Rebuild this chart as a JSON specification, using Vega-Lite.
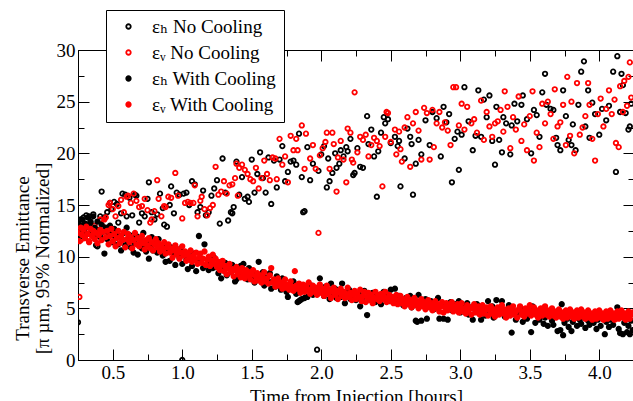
{
"$schema":"https://vega.github.io/schema/vega-lite/v6.json",
"width":556,"height":310,
"autosize":"none",
"padding":{"left":78,"top":50,"right":0,"bottom":41},
"background":"white",
"config":{
"view":{"stroke":"black","strokeWidth":1},
"font":"Liberation Serif, Times New Roman, DejaVu Serif, serif",
"axis":{"labelFont":"Liberation Serif, Times New Roman, DejaVu Serif, serif","titleFont":"Liberation Serif, Times New Roman, DejaVu Serif, serif","labelFontSize":19,"titleFontSize":19,"labelColor":"black","titleColor":"black","domainColor":"black","tickColor":"black","titleFontWeight":"normal","grid":false,"tickWidth":1,"domainWidth":1}
},
"datasets":{
"pts":[
{"s":"a","x":0.25,"y":3.65},{"s":"a","x":0.26,"y":12.9},{"s":"a","x":0.27,"y":13.6},{"s":"a","x":0.29,"y":13.8},{"s":"a","x":0.30,"y":13.2},{"s":"a","x":0.31,"y":14.0},{"s":"a","x":0.33,"y":13.9},{"s":"a","x":0.34,"y":13.4},{"s":"a","x":0.36,"y":14.1},{"s":"a","x":0.38,"y":11.1},{"s":"a","x":0.39,"y":11.0},{"s":"a","x":0.41,"y":13.9},{"s":"a","x":0.42,"y":16.3},{"s":"a","x":0.44,"y":13.8},{"s":"a","x":0.46,"y":14.3},{"s":"a","x":0.48,"y":15.2},{"s":"a","x":0.49,"y":14.6},{"s":"a","x":0.51,"y":15.3},{"s":"a","x":0.53,"y":15.1},{"s":"a","x":0.54,"y":13.3},{"s":"a","x":0.56,"y":14.2},{"s":"a","x":0.57,"y":16.1},{"s":"a","x":0.59,"y":16.0},{"s":"a","x":0.60,"y":13.9},{"s":"a","x":0.62,"y":15.7},{"s":"a","x":0.64,"y":14.0},{"s":"a","x":0.66,"y":16.0},{"s":"a","x":0.67,"y":15.9},{"s":"a","x":0.69,"y":13.3},{"s":"a","x":0.71,"y":14.2},{"s":"a","x":0.73,"y":13.9},{"s":"a","x":0.75,"y":15.6},{"s":"a","x":0.76,"y":17.2},{"s":"a","x":0.78,"y":14.3},{"s":"a","x":0.80,"y":13.6},{"s":"a","x":0.82,"y":14.1},{"s":"a","x":0.84,"y":16.1},{"s":"a","x":0.86,"y":14.7},{"s":"a","x":0.87,"y":13.1},{"s":"a","x":0.89,"y":12.9},{"s":"a","x":0.91,"y":15.0},{"s":"a","x":0.92,"y":16.8},{"s":"a","x":0.94,"y":14.2},{"s":"a","x":0.96,"y":16.2},{"s":"a","x":0.98,"y":16.0},{"s":"a","x":1.00,"y":0.0},{"s":"a","x":1.01,"y":16.1},{"s":"a","x":1.03,"y":16.2},{"s":"a","x":1.05,"y":15.0},{"s":"a","x":1.07,"y":17.3},{"s":"a","x":1.09,"y":17.0},{"s":"a","x":1.11,"y":14.3},{"s":"a","x":1.13,"y":14.8},{"s":"a","x":1.15,"y":16.4},{"s":"a","x":1.17,"y":14.0},{"s":"a","x":1.19,"y":14.3},{"s":"a","x":1.21,"y":15.9},{"s":"a","x":1.23,"y":16.6},{"s":"a","x":1.25,"y":17.4},{"s":"a","x":1.27,"y":13.2},{"s":"a","x":1.29,"y":19.5},{"s":"a","x":1.31,"y":16.2},{"s":"a","x":1.33,"y":13.5},{"s":"a","x":1.35,"y":14.3},{"s":"a","x":1.36,"y":14.2},{"s":"a","x":1.37,"y":14.8},{"s":"a","x":1.39,"y":19.2},{"s":"a","x":1.41,"y":16.0},{"s":"a","x":1.43,"y":17.7},{"s":"a","x":1.45,"y":15.6},{"s":"a","x":1.47,"y":15.8},{"s":"a","x":1.48,"y":15.3},{"s":"a","x":1.50,"y":19.4},{"s":"a","x":1.52,"y":16.2},{"s":"a","x":1.54,"y":18.0},{"s":"a","x":1.56,"y":20.1},{"s":"a","x":1.58,"y":17.6},{"s":"a","x":1.60,"y":16.2},{"s":"a","x":1.62,"y":19.6},{"s":"a","x":1.64,"y":15.1},{"s":"a","x":1.66,"y":19.3},{"s":"a","x":1.68,"y":16.7},{"s":"a","x":1.70,"y":19.4},{"s":"a","x":1.72,"y":20.7},{"s":"a","x":1.74,"y":17.3},{"s":"a","x":1.76,"y":18.2},{"s":"a","x":1.78,"y":19.2},{"s":"a","x":1.80,"y":19.3},{"s":"a","x":1.82,"y":18.9},{"s":"a","x":1.84,"y":21.9},{"s":"a","x":1.86,"y":17.7},{"s":"a","x":1.87,"y":14.3},{"s":"a","x":1.88,"y":14.4},{"s":"a","x":1.90,"y":20.6},{"s":"a","x":1.92,"y":17.4},{"s":"a","x":1.94,"y":19.0},{"s":"a","x":1.97,"y":1.0},{"s":"a","x":1.98,"y":18.3},{"s":"a","x":2.00,"y":19.9},{"s":"a","x":2.02,"y":20.7},{"s":"a","x":2.04,"y":16.7},{"s":"a","x":2.05,"y":19.5},{"s":"a","x":2.06,"y":17.3},{"s":"a","x":2.08,"y":18.1},{"s":"a","x":2.10,"y":20.0},{"s":"a","x":2.11,"y":18.6},{"s":"a","x":2.13,"y":19.0},{"s":"a","x":2.14,"y":20.3},{"s":"a","x":2.16,"y":19.7},{"s":"a","x":2.18,"y":20.6},{"s":"a","x":2.19,"y":20.2},{"s":"a","x":2.21,"y":21.4},{"s":"a","x":2.23,"y":17.9},{"s":"a","x":2.24,"y":18.1},{"s":"a","x":2.26,"y":20.5},{"s":"a","x":2.28,"y":18.7},{"s":"a","x":2.30,"y":18.6},{"s":"a","x":2.33,"y":23.6},{"s":"a","x":2.34,"y":20.9},{"s":"a","x":2.36,"y":22.3},{"s":"a","x":2.38,"y":19.7},{"s":"a","x":2.40,"y":15.8},{"s":"a","x":2.41,"y":20.2},{"s":"a","x":2.43,"y":22.0},{"s":"a","x":2.45,"y":23.5},{"s":"a","x":2.46,"y":22.9},{"s":"a","x":2.48,"y":23.3},{"s":"a","x":2.50,"y":21.0},{"s":"a","x":2.53,"y":21.6},{"s":"a","x":2.55,"y":20.7},{"s":"a","x":2.56,"y":21.2},{"s":"a","x":2.57,"y":16.8},{"s":"a","x":2.60,"y":19.5},{"s":"a","x":2.62,"y":22.4},{"s":"a","x":2.64,"y":21.6},{"s":"a","x":2.65,"y":20.9},{"s":"a","x":2.66,"y":16.0},{"s":"a","x":2.68,"y":19.0},{"s":"a","x":2.70,"y":21.3},{"s":"a","x":2.72,"y":19.9},{"s":"a","x":2.75,"y":23.2},{"s":"a","x":2.78,"y":20.8},{"s":"a","x":2.80,"y":24.0},{"s":"a","x":2.83,"y":23.4},{"s":"a","x":2.86,"y":19.7},{"s":"a","x":2.88,"y":24.5},{"s":"a","x":2.90,"y":23.0},{"s":"a","x":2.92,"y":23.8},{"s":"a","x":2.94,"y":17.2},{"s":"a","x":2.96,"y":21.4},{"s":"a","x":2.98,"y":22.1},{"s":"a","x":2.99,"y":18.4},{"s":"a","x":3.01,"y":21.8},{"s":"a","x":3.03,"y":26.4},{"s":"a","x":3.06,"y":23.1},{"s":"a","x":3.09,"y":20.3},{"s":"a","x":3.11,"y":21.7},{"s":"a","x":3.13,"y":26.1},{"s":"a","x":3.15,"y":21.6},{"s":"a","x":3.17,"y":25.2},{"s":"a","x":3.19,"y":23.5},{"s":"a","x":3.21,"y":25.6},{"s":"a","x":3.23,"y":21.2},{"s":"a","x":3.25,"y":18.9},{"s":"a","x":3.26,"y":24.5},{"s":"a","x":3.28,"y":21.3},{"s":"a","x":3.30,"y":20.1},{"s":"a","x":3.31,"y":23.5},{"s":"a","x":3.33,"y":22.9},{"s":"a","x":3.36,"y":19.9},{"s":"a","x":3.37,"y":22.7},{"s":"a","x":3.39,"y":24.8},{"s":"a","x":3.41,"y":23.1},{"s":"a","x":3.44,"y":24.7},{"s":"a","x":3.45,"y":25.6},{"s":"a","x":3.48,"y":23.3},{"s":"a","x":3.51,"y":20.0},{"s":"a","x":3.53,"y":24.2},{"s":"a","x":3.55,"y":23.7},{"s":"a","x":3.57,"y":21.6},{"s":"a","x":3.59,"y":25.9},{"s":"a","x":3.61,"y":27.7},{"s":"a","x":3.62,"y":24.7},{"s":"a","x":3.65,"y":24.3},{"s":"a","x":3.67,"y":24.2},{"s":"a","x":3.69,"y":21.5},{"s":"a","x":3.70,"y":20.8},{"s":"a","x":3.72,"y":20.3},{"s":"a","x":3.74,"y":26.1},{"s":"a","x":3.76,"y":23.6},{"s":"a","x":3.78,"y":21.3},{"s":"a","x":3.80,"y":20.8},{"s":"a","x":3.81,"y":22.8},{"s":"a","x":3.83,"y":20.3},{"s":"a","x":3.85,"y":24.7},{"s":"a","x":3.87,"y":27.9},{"s":"a","x":3.89,"y":28.9},{"s":"a","x":3.90,"y":22.6},{"s":"a","x":3.92,"y":26.1},{"s":"a","x":3.93,"y":21.5},{"s":"a","x":3.95,"y":24.9},{"s":"a","x":3.97,"y":23.8},{"s":"a","x":4.00,"y":21.8},{"s":"a","x":4.02,"y":24.3},{"s":"a","x":4.05,"y":23.2},{"s":"a","x":4.07,"y":24.6},{"s":"a","x":4.10,"y":27.9},{"s":"a","x":4.12,"y":18.2},{"s":"a","x":4.13,"y":29.4},{"s":"a","x":4.15,"y":24.0},{"s":"a","x":4.16,"y":27.7},{"s":"a","x":4.17,"y":26.6},{"s":"a","x":4.19,"y":23.9},{"s":"a","x":4.21,"y":22.3},{"s":"a","x":4.22,"y":22.6},{"s":"a","x":4.23,"y":24.8},
{"s":"b","x":0.26,"y":6.1},{"s":"b","x":0.27,"y":11.6},{"s":"b","x":0.28,"y":12.3},{"s":"b","x":0.30,"y":11.8},{"s":"b","x":0.31,"y":12.8},{"s":"b","x":0.33,"y":11.5},{"s":"b","x":0.35,"y":12.5},{"s":"b","x":0.37,"y":13.0},{"s":"b","x":0.39,"y":12.0},{"s":"b","x":0.41,"y":13.6},{"s":"b","x":0.43,"y":12.9},{"s":"b","x":0.45,"y":13.8},{"s":"b","x":0.47,"y":15.0},{"s":"b","x":0.48,"y":15.2},{"s":"b","x":0.50,"y":14.6},{"s":"b","x":0.52,"y":13.9},{"s":"b","x":0.54,"y":14.9},{"s":"b","x":0.56,"y":15.5},{"s":"b","x":0.58,"y":14.3},{"s":"b","x":0.60,"y":15.8},{"s":"b","x":0.61,"y":15.9},{"s":"b","x":0.63,"y":15.2},{"s":"b","x":0.65,"y":16.1},{"s":"b","x":0.67,"y":15.4},{"s":"b","x":0.69,"y":14.8},{"s":"b","x":0.71,"y":14.9},{"s":"b","x":0.73,"y":15.6},{"s":"b","x":0.75,"y":14.5},{"s":"b","x":0.77,"y":13.3},{"s":"b","x":0.78,"y":13.6},{"s":"b","x":0.80,"y":14.4},{"s":"b","x":0.82,"y":17.4},{"s":"b","x":0.83,"y":15.6},{"s":"b","x":0.85,"y":13.9},{"s":"b","x":0.87,"y":14.9},{"s":"b","x":0.88,"y":14.8},{"s":"b","x":0.90,"y":15.8},{"s":"b","x":0.92,"y":15.7},{"s":"b","x":0.95,"y":18.1},{"s":"b","x":0.97,"y":15.9},{"s":"b","x":1.00,"y":13.7},{"s":"b","x":1.02,"y":15.2},{"s":"b","x":1.04,"y":15.3},{"s":"b","x":1.06,"y":15.2},{"s":"b","x":1.08,"y":15.2},{"s":"b","x":1.09,"y":16.9},{"s":"b","x":1.11,"y":13.9},{"s":"b","x":1.13,"y":15.4},{"s":"b","x":1.14,"y":15.8},{"s":"b","x":1.16,"y":14.6},{"s":"b","x":1.18,"y":14.0},{"s":"b","x":1.20,"y":14.7},{"s":"b","x":1.22,"y":15.0},{"s":"b","x":1.24,"y":18.7},{"s":"b","x":1.26,"y":16.0},{"s":"b","x":1.28,"y":16.3},{"s":"b","x":1.30,"y":17.3},{"s":"b","x":1.32,"y":16.1},{"s":"b","x":1.34,"y":16.9},{"s":"b","x":1.36,"y":17.0},{"s":"b","x":1.38,"y":17.6},{"s":"b","x":1.39,"y":19.0},{"s":"b","x":1.40,"y":15.9},{"s":"b","x":1.41,"y":18.6},{"s":"b","x":1.43,"y":18.9},{"s":"b","x":1.45,"y":18.4},{"s":"b","x":1.47,"y":18.0},{"s":"b","x":1.49,"y":17.5},{"s":"b","x":1.51,"y":17.3},{"s":"b","x":1.53,"y":18.6},{"s":"b","x":1.55,"y":16.6},{"s":"b","x":1.57,"y":17.6},{"s":"b","x":1.59,"y":19.3},{"s":"b","x":1.61,"y":18.0},{"s":"b","x":1.63,"y":17.4},{"s":"b","x":1.65,"y":19.6},{"s":"b","x":1.67,"y":19.5},{"s":"b","x":1.68,"y":17.5},{"s":"b","x":1.70,"y":21.4},{"s":"b","x":1.72,"y":18.9},{"s":"b","x":1.74,"y":19.7},{"s":"b","x":1.76,"y":17.2},{"s":"b","x":1.78,"y":21.7},{"s":"b","x":1.80,"y":20.3},{"s":"b","x":1.82,"y":21.4},{"s":"b","x":1.83,"y":20.3},{"s":"b","x":1.86,"y":22.7},{"s":"b","x":1.88,"y":18.5},{"s":"b","x":1.89,"y":21.9},{"s":"b","x":1.92,"y":19.5},{"s":"b","x":1.94,"y":20.8},{"s":"b","x":1.96,"y":18.5},{"s":"b","x":1.98,"y":12.3},{"s":"b","x":1.99,"y":19.8},{"s":"b","x":2.01,"y":20.5},{"s":"b","x":2.03,"y":21.1},{"s":"b","x":2.04,"y":22.0},{"s":"b","x":2.06,"y":18.5},{"s":"b","x":2.08,"y":22.0},{"s":"b","x":2.09,"y":20.9},{"s":"b","x":2.11,"y":16.3},{"s":"b","x":2.12,"y":19.6},{"s":"b","x":2.14,"y":21.2},{"s":"b","x":2.16,"y":19.4},{"s":"b","x":2.18,"y":17.2},{"s":"b","x":2.19,"y":22.4},{"s":"b","x":2.21,"y":22.0},{"s":"b","x":2.22,"y":19.4},{"s":"b","x":2.23,"y":19.1},{"s":"b","x":2.24,"y":25.9},{"s":"b","x":2.26,"y":20.1},{"s":"b","x":2.28,"y":21.6},{"s":"b","x":2.30,"y":21.3},{"s":"b","x":2.32,"y":21.8},{"s":"b","x":2.34,"y":19.7},{"s":"b","x":2.36,"y":20.8},{"s":"b","x":2.38,"y":21.5},{"s":"b","x":2.40,"y":21.2},{"s":"b","x":2.42,"y":20.7},{"s":"b","x":2.44,"y":16.8},{"s":"b","x":2.46,"y":21.6},{"s":"b","x":2.47,"y":24.0},{"s":"b","x":2.48,"y":23.9},{"s":"b","x":2.50,"y":21.1},{"s":"b","x":2.53,"y":22.3},{"s":"b","x":2.54,"y":19.9},{"s":"b","x":2.56,"y":22.1},{"s":"b","x":2.57,"y":20.4},{"s":"b","x":2.58,"y":19.2},{"s":"b","x":2.60,"y":22.5},{"s":"b","x":2.62,"y":23.5},{"s":"b","x":2.64,"y":18.7},{"s":"b","x":2.66,"y":22.9},{"s":"b","x":2.68,"y":24.0},{"s":"b","x":2.70,"y":22.2},{"s":"b","x":2.72,"y":19.4},{"s":"b","x":2.74,"y":24.4},{"s":"b","x":2.76,"y":23.9},{"s":"b","x":2.78,"y":19.4},{"s":"b","x":2.80,"y":24.2},{"s":"b","x":2.81,"y":20.6},{"s":"b","x":2.83,"y":22.9},{"s":"b","x":2.85,"y":24.0},{"s":"b","x":2.87,"y":22.5},{"s":"b","x":2.89,"y":23.0},{"s":"b","x":2.91,"y":22.2},{"s":"b","x":2.93,"y":20.8},{"s":"b","x":2.95,"y":26.4},{"s":"b","x":2.97,"y":26.4},{"s":"b","x":2.99,"y":22.7},{"s":"b","x":3.01,"y":24.8},{"s":"b","x":3.03,"y":22.3},{"s":"b","x":3.05,"y":24.5},{"s":"b","x":3.08,"y":22.9},{"s":"b","x":3.10,"y":23.3},{"s":"b","x":3.12,"y":22.0},{"s":"b","x":3.15,"y":25.1},{"s":"b","x":3.17,"y":21.3},{"s":"b","x":3.19,"y":24.0},{"s":"b","x":3.21,"y":22.6},{"s":"b","x":3.23,"y":21.6},{"s":"b","x":3.25,"y":22.9},{"s":"b","x":3.27,"y":23.1},{"s":"b","x":3.29,"y":24.2},{"s":"b","x":3.31,"y":22.1},{"s":"b","x":3.32,"y":26.0},{"s":"b","x":3.34,"y":24.5},{"s":"b","x":3.36,"y":20.5},{"s":"b","x":3.38,"y":23.5},{"s":"b","x":3.40,"y":22.3},{"s":"b","x":3.42,"y":25.5},{"s":"b","x":3.44,"y":21.2},{"s":"b","x":3.46,"y":22.8},{"s":"b","x":3.48,"y":20.3},{"s":"b","x":3.50,"y":23.6},{"s":"b","x":3.52,"y":26.0},{"s":"b","x":3.53,"y":19.3},{"s":"b","x":3.55,"y":22.0},{"s":"b","x":3.57,"y":20.6},{"s":"b","x":3.59,"y":24.8},{"s":"b","x":3.61,"y":22.9},{"s":"b","x":3.63,"y":25.0},{"s":"b","x":3.65,"y":23.8},{"s":"b","x":3.67,"y":21.4},{"s":"b","x":3.68,"y":26.2},{"s":"b","x":3.70,"y":22.6},{"s":"b","x":3.72,"y":23.0},{"s":"b","x":3.74,"y":24.7},{"s":"b","x":3.76,"y":20.8},{"s":"b","x":3.77,"y":27.4},{"s":"b","x":3.79,"y":21.7},{"s":"b","x":3.80,"y":25.0},{"s":"b","x":3.82,"y":20.0},{"s":"b","x":3.84,"y":26.8},{"s":"b","x":3.86,"y":21.8},{"s":"b","x":3.88,"y":22.5},{"s":"b","x":3.90,"y":23.6},{"s":"b","x":3.92,"y":26.8},{"s":"b","x":3.93,"y":24.7},{"s":"b","x":3.95,"y":21.4},{"s":"b","x":3.97,"y":19.3},{"s":"b","x":3.99,"y":23.8},{"s":"b","x":4.01,"y":25.3},{"s":"b","x":4.03,"y":22.6},{"s":"b","x":4.05,"y":24.3},{"s":"b","x":4.07,"y":26.1},{"s":"b","x":4.09,"y":23.8},{"s":"b","x":4.11,"y":25.2},{"s":"b","x":4.12,"y":21.0},{"s":"b","x":4.14,"y":20.6},{"s":"b","x":4.15,"y":26.5},{"s":"b","x":4.17,"y":24.0},{"s":"b","x":4.18,"y":27.0},{"s":"b","x":4.20,"y":24.6},{"s":"b","x":4.21,"y":27.4},{"s":"b","x":4.22,"y":28.8},{"s":"b","x":4.23,"y":25.4},
{"s":"c","x":0.25,"y":12.4},{"s":"c","x":0.26,"y":13.1},{"s":"c","x":0.27,"y":12.0},{"s":"c","x":0.28,"y":13.6},{"s":"c","x":0.29,"y":12.6},{"s":"c","x":0.30,"y":13.2},{"s":"c","x":0.31,"y":12.2},{"s":"c","x":0.32,"y":13.8},{"s":"c","x":0.33,"y":12.9},{"s":"c","x":0.34,"y":13.3},{"s":"c","x":0.35,"y":12.5},{"s":"c","x":0.36,"y":13.9},{"s":"c","x":0.37,"y":12.8},{"s":"c","x":0.38,"y":12.1},{"s":"c","x":0.39,"y":13.4},{"s":"c","x":0.40,"y":12.6},{"s":"c","x":0.41,"y":11.9},{"s":"c","x":0.42,"y":13.1},{"s":"c","x":0.43,"y":12.4},{"s":"c","x":0.44,"y":10.3},{"s":"c","x":0.45,"y":12.8},{"s":"c","x":0.46,"y":11.7},{"s":"c","x":0.47,"y":12.3},{"s":"c","x":0.48,"y":13.0},{"s":"c","x":0.49,"y":12.1},{"s":"c","x":0.50,"y":11.4},{"s":"c","x":0.51,"y":12.7},{"s":"c","x":0.52,"y":11.9},{"s":"c","x":0.53,"y":12.4},{"s":"c","x":0.54,"y":11.2},{"s":"c","x":0.55,"y":12.0},{"s":"c","x":0.56,"y":10.6},{"s":"c","x":0.57,"y":11.6},{"s":"c","x":0.58,"y":12.3},{"s":"c","x":0.59,"y":11.1},{"s":"c","x":0.60,"y":12.8},{"s":"c","x":0.61,"y":11.5},{"s":"c","x":0.62,"y":12.1},{"s":"c","x":0.63,"y":10.9},{"s":"c","x":0.64,"y":11.8},{"s":"c","x":0.65,"y":10.4},{"s":"c","x":0.66,"y":11.3},{"s":"c","x":0.67,"y":12.0},{"s":"c","x":0.68,"y":10.2},{"s":"c","x":0.69,"y":11.1},{"s":"c","x":0.70,"y":11.7},{"s":"c","x":0.71,"y":10.8},{"s":"c","x":0.72,"y":12.3},{"s":"c","x":0.73,"y":11.2},{"s":"c","x":0.74,"y":10.5},{"s":"c","x":0.75,"y":11.6},{"s":"c","x":0.76,"y":9.8},{"s":"c","x":0.77,"y":11.0},{"s":"c","x":0.78,"y":11.9},{"s":"c","x":0.79,"y":10.6},{"s":"c","x":0.80,"y":11.3},{"s":"c","x":0.82,"y":10.4},{"s":"c","x":0.83,"y":11.7},{"s":"c","x":0.84,"y":10.9},{"s":"c","x":0.86,"y":10.1},{"s":"c","x":0.87,"y":11.2},{"s":"c","x":0.88,"y":9.5},{"s":"c","x":0.90,"y":10.7},{"s":"c","x":0.91,"y":9.6},{"s":"c","x":0.92,"y":10.9},{"s":"c","x":0.94,"y":10.2},{"s":"c","x":0.95,"y":9.2},{"s":"c","x":0.96,"y":10.6},{"s":"c","x":0.98,"y":9.9},{"s":"c","x":0.99,"y":10.8},{"s":"c","x":1.00,"y":9.3},{"s":"c","x":1.02,"y":10.4},{"s":"c","x":1.03,"y":9.7},{"s":"c","x":1.04,"y":8.8},{"s":"c","x":1.06,"y":9.9},{"s":"c","x":1.07,"y":9.1},{"s":"c","x":1.08,"y":10.3},{"s":"c","x":1.10,"y":8.6},{"s":"c","x":1.11,"y":9.5},{"s":"c","x":1.12,"y":12.0},{"s":"c","x":1.14,"y":9.8},{"s":"c","x":1.15,"y":8.9},{"s":"c","x":1.16,"y":11.2},{"s":"c","x":1.18,"y":9.3},{"s":"c","x":1.19,"y":8.7},{"s":"c","x":1.20,"y":9.6},{"s":"c","x":1.22,"y":8.9},{"s":"c","x":1.23,"y":9.9},{"s":"c","x":1.24,"y":9.0},{"s":"c","x":1.26,"y":8.4},{"s":"c","x":1.27,"y":9.3},{"s":"c","x":1.28,"y":7.9},{"s":"c","x":1.30,"y":8.8},{"s":"c","x":1.31,"y":9.4},{"s":"c","x":1.32,"y":8.2},{"s":"c","x":1.34,"y":9.0},{"s":"c","x":1.35,"y":8.5},{"s":"c","x":1.36,"y":9.2},{"s":"c","x":1.38,"y":7.6},{"s":"c","x":1.39,"y":7.8},{"s":"c","x":1.40,"y":8.7},{"s":"c","x":1.42,"y":9.1},{"s":"c","x":1.43,"y":8.1},{"s":"c","x":1.44,"y":9.3},{"s":"c","x":1.46,"y":8.4},{"s":"c","x":1.47,"y":7.8},{"s":"c","x":1.48,"y":8.9},{"s":"c","x":1.50,"y":8.0},{"s":"c","x":1.51,"y":8.6},{"s":"c","x":1.52,"y":7.5},{"s":"c","x":1.54,"y":8.3},{"s":"c","x":1.55,"y":9.5},{"s":"c","x":1.56,"y":7.9},{"s":"c","x":1.58,"y":8.5},{"s":"c","x":1.59,"y":7.2},{"s":"c","x":1.60,"y":8.0},{"s":"c","x":1.62,"y":7.6},{"s":"c","x":1.63,"y":8.4},{"s":"c","x":1.64,"y":6.9},{"s":"c","x":1.66,"y":7.7},{"s":"c","x":1.67,"y":7.1},{"s":"c","x":1.68,"y":8.1},{"s":"c","x":1.70,"y":7.4},{"s":"c","x":1.71,"y":6.8},{"s":"c","x":1.72,"y":7.9},{"s":"c","x":1.74,"y":7.2},{"s":"c","x":1.75,"y":6.6},{"s":"c","x":1.76,"y":6.1},{"s":"c","x":1.78,"y":7.3},{"s":"c","x":1.79,"y":6.9},{"s":"c","x":1.80,"y":7.6},{"s":"c","x":1.82,"y":6.4},{"s":"c","x":1.83,"y":5.6},{"s":"c","x":1.84,"y":5.7},{"s":"c","x":1.85,"y":5.8},{"s":"c","x":1.86,"y":5.9},{"s":"c","x":1.88,"y":6.0},{"s":"c","x":1.89,"y":7.0},{"s":"c","x":1.90,"y":6.1},{"s":"c","x":1.92,"y":6.7},{"s":"c","x":1.93,"y":7.2},{"s":"c","x":1.94,"y":6.3},{"s":"c","x":1.96,"y":6.9},{"s":"c","x":1.97,"y":6.5},{"s":"c","x":1.99,"y":7.9},{"s":"c","x":2.00,"y":6.8},{"s":"c","x":2.02,"y":6.2},{"s":"c","x":2.03,"y":7.1},{"s":"c","x":2.04,"y":6.6},{"s":"c","x":2.06,"y":5.9},{"s":"c","x":2.07,"y":7.4},{"s":"c","x":2.08,"y":6.4},{"s":"c","x":2.10,"y":6.9},{"s":"c","x":2.11,"y":6.0},{"s":"c","x":2.12,"y":6.7},{"s":"c","x":2.14,"y":6.1},{"s":"c","x":2.15,"y":7.4},{"s":"c","x":2.17,"y":5.5},{"s":"c","x":2.18,"y":6.5},{"s":"c","x":2.20,"y":6.8},{"s":"c","x":2.21,"y":5.9},{"s":"c","x":2.22,"y":6.3},{"s":"c","x":2.24,"y":6.6},{"s":"c","x":2.25,"y":5.8},{"s":"c","x":2.27,"y":6.4},{"s":"c","x":2.28,"y":5.2},{"s":"c","x":2.30,"y":6.1},{"s":"c","x":2.31,"y":6.7},{"s":"c","x":2.33,"y":4.35},{"s":"c","x":2.34,"y":6.2},{"s":"c","x":2.36,"y":5.9},{"s":"c","x":2.37,"y":6.5},{"s":"c","x":2.39,"y":5.6},{"s":"c","x":2.40,"y":6.3},{"s":"c","x":2.42,"y":6.0},{"s":"c","x":2.43,"y":5.4},{"s":"c","x":2.45,"y":6.6},{"s":"c","x":2.46,"y":6.1},{"s":"c","x":2.47,"y":6.3},{"s":"c","x":2.49,"y":5.7},{"s":"c","x":2.50,"y":6.8},{"s":"c","x":2.52,"y":5.9},{"s":"c","x":2.53,"y":6.9},{"s":"c","x":2.55,"y":5.5},{"s":"c","x":2.56,"y":6.2},{"s":"c","x":2.58,"y":5.8},{"s":"c","x":2.59,"y":5.3},{"s":"c","x":2.61,"y":6.0},{"s":"c","x":2.62,"y":5.6},{"s":"c","x":2.64,"y":6.2},{"s":"c","x":2.65,"y":5.1},{"s":"c","x":2.67,"y":5.7},{"s":"c","x":2.68,"y":3.8},{"s":"c","x":2.69,"y":3.7},{"s":"c","x":2.70,"y":6.3},{"s":"c","x":2.72,"y":3.8},{"s":"c","x":2.73,"y":5.4},{"s":"c","x":2.75,"y":5.9},{"s":"c","x":2.76,"y":4.0},{"s":"c","x":2.78,"y":5.2},{"s":"c","x":2.79,"y":5.7},{"s":"c","x":2.81,"y":4.9},{"s":"c","x":2.82,"y":5.5},{"s":"c","x":2.84,"y":6.0},{"s":"c","x":2.85,"y":4.0},{"s":"c","x":2.87,"y":5.3},{"s":"c","x":2.88,"y":4.0},{"s":"c","x":2.90,"y":5.1},{"s":"c","x":2.91,"y":3.9},{"s":"c","x":2.93,"y":5.6},{"s":"c","x":2.94,"y":4.8},{"s":"c","x":2.96,"y":5.4},{"s":"c","x":2.97,"y":5.0},{"s":"c","x":2.99,"y":5.7},{"s":"c","x":3.00,"y":4.6},{"s":"c","x":3.02,"y":5.3},{"s":"c","x":3.03,"y":4.9},{"s":"c","x":3.05,"y":5.5},{"s":"c","x":3.06,"y":4.4},{"s":"c","x":3.08,"y":5.1},{"s":"c","x":3.09,"y":3.9},{"s":"c","x":3.11,"y":4.8},{"s":"c","x":3.12,"y":5.4},{"s":"c","x":3.14,"y":4.5},{"s":"c","x":3.15,"y":3.9},{"s":"c","x":3.17,"y":5.0},{"s":"c","x":3.18,"y":4.3},{"s":"c","x":3.20,"y":5.7},{"s":"c","x":3.21,"y":4.7},{"s":"c","x":3.23,"y":5.2},{"s":"c","x":3.24,"y":4.1},{"s":"c","x":3.26,"y":5.8},{"s":"c","x":3.27,"y":4.6},{"s":"c","x":3.29,"y":5.0},{"s":"c","x":3.30,"y":5.7},{"s":"c","x":3.32,"y":4.2},{"s":"c","x":3.33,"y":4.8},{"s":"c","x":3.35,"y":5.3},{"s":"c","x":3.36,"y":4.4},{"s":"c","x":3.37,"y":2.65},{"s":"c","x":3.39,"y":4.7},{"s":"c","x":3.40,"y":3.9},{"s":"c","x":3.42,"y":4.5},{"s":"c","x":3.43,"y":5.0},{"s":"c","x":3.45,"y":3.7},{"s":"c","x":3.46,"y":4.3},{"s":"c","x":3.48,"y":4.0},{"s":"c","x":3.49,"y":4.6},{"s":"c","x":3.51,"y":2.7},{"s":"c","x":3.52,"y":5.2},{"s":"c","x":3.54,"y":3.6},{"s":"c","x":3.55,"y":4.4},{"s":"c","x":3.57,"y":3.9},{"s":"c","x":3.58,"y":4.7},{"s":"c","x":3.60,"y":3.5},{"s":"c","x":3.61,"y":4.1},{"s":"c","x":3.63,"y":3.3},{"s":"c","x":3.64,"y":4.5},{"s":"c","x":3.66,"y":3.8},{"s":"c","x":3.67,"y":3.4},{"s":"c","x":3.69,"y":4.2},{"s":"c","x":3.70,"y":2.8},{"s":"c","x":3.72,"y":2.9},{"s":"c","x":3.73,"y":5.4},{"s":"c","x":3.74,"y":2.4},{"s":"c","x":3.75,"y":3.6},{"s":"c","x":3.77,"y":4.0},{"s":"c","x":3.78,"y":3.2},{"s":"c","x":3.80,"y":2.8},{"s":"c","x":3.81,"y":3.7},{"s":"c","x":3.83,"y":4.1},{"s":"c","x":3.84,"y":3.3},{"s":"c","x":3.86,"y":3.9},{"s":"c","x":3.87,"y":3.5},{"s":"c","x":3.89,"y":4.3},{"s":"c","x":3.90,"y":3.1},{"s":"c","x":3.92,"y":3.8},{"s":"c","x":3.93,"y":3.4},{"s":"c","x":3.95,"y":4.0},{"s":"c","x":3.96,"y":3.6},{"s":"c","x":3.98,"y":3.0},{"s":"c","x":3.99,"y":3.9},{"s":"c","x":4.01,"y":3.3},{"s":"c","x":4.02,"y":4.2},{"s":"c","x":4.04,"y":2.5},{"s":"c","x":4.05,"y":3.7},{"s":"c","x":4.07,"y":3.2},{"s":"c","x":4.08,"y":3.9},{"s":"c","x":4.10,"y":3.4},{"s":"c","x":4.11,"y":4.1},{"s":"c","x":4.13,"y":5.1},{"s":"c","x":4.14,"y":3.0},{"s":"c","x":4.15,"y":2.6},{"s":"c","x":4.17,"y":2.5},{"s":"c","x":4.18,"y":3.6},{"s":"c","x":4.20,"y":2.7},{"s":"c","x":4.21,"y":3.3},{"s":"c","x":4.22,"y":2.5},{"s":"c","x":4.23,"y":3.8},{"s":"c","x":4.24,"y":2.9},
{"s":"d","x":0.25,"y":12.3},{"s":"d","x":0.26,"y":11.5},{"s":"d","x":0.27,"y":12.8},{"s":"d","x":0.28,"y":12.1},{"s":"d","x":0.29,"y":12.6},{"s":"d","x":0.30,"y":11.8},{"s":"d","x":0.31,"y":12.9},{"s":"d","x":0.32,"y":12.2},{"s":"d","x":0.33,"y":11.4},{"s":"d","x":0.34,"y":12.7},{"s":"d","x":0.35,"y":12.0},{"s":"d","x":0.36,"y":12.5},{"s":"d","x":0.37,"y":11.7},{"s":"d","x":0.38,"y":12.3},{"s":"d","x":0.39,"y":11.3},{"s":"d","x":0.40,"y":12.1},{"s":"d","x":0.41,"y":12.6},{"s":"d","x":0.42,"y":11.6},{"s":"d","x":0.43,"y":12.4},{"s":"d","x":0.44,"y":13.6},{"s":"d","x":0.45,"y":11.9},{"s":"d","x":0.46,"y":12.5},{"s":"d","x":0.47,"y":11.2},{"s":"d","x":0.48,"y":12.0},{"s":"d","x":0.49,"y":12.7},{"s":"d","x":0.50,"y":11.5},{"s":"d","x":0.51,"y":12.2},{"s":"d","x":0.52,"y":11.0},{"s":"d","x":0.53,"y":11.8},{"s":"d","x":0.54,"y":12.5},{"s":"d","x":0.55,"y":11.3},{"s":"d","x":0.56,"y":12.0},{"s":"d","x":0.57,"y":11.6},{"s":"d","x":0.58,"y":12.4},{"s":"d","x":0.59,"y":10.9},{"s":"d","x":0.60,"y":11.7},{"s":"d","x":0.61,"y":12.2},{"s":"d","x":0.62,"y":11.4},{"s":"d","x":0.63,"y":11.9},{"s":"d","x":0.64,"y":10.8},{"s":"d","x":0.65,"y":11.6},{"s":"d","x":0.66,"y":12.3},{"s":"d","x":0.67,"y":11.2},{"s":"d","x":0.68,"y":11.8},{"s":"d","x":0.69,"y":11.0},{"s":"d","x":0.70,"y":11.5},{"s":"d","x":0.71,"y":12.0},{"s":"d","x":0.72,"y":11.3},{"s":"d","x":0.73,"y":10.7},{"s":"d","x":0.74,"y":11.6},{"s":"d","x":0.75,"y":11.1},{"s":"d","x":0.76,"y":11.8},{"s":"d","x":0.77,"y":10.8},{"s":"d","x":0.78,"y":11.4},{"s":"d","x":0.79,"y":10.6},{"s":"d","x":0.80,"y":11.2},{"s":"d","x":0.81,"y":11.7},{"s":"d","x":0.82,"y":10.9},{"s":"d","x":0.83,"y":11.3},{"s":"d","x":0.84,"y":10.5},{"s":"d","x":0.85,"y":11.0},{"s":"d","x":0.86,"y":10.7},{"s":"d","x":0.87,"y":11.4},{"s":"d","x":0.88,"y":10.3},{"s":"d","x":0.89,"y":10.9},{"s":"d","x":0.90,"y":11.2},{"s":"d","x":0.91,"y":10.4},{"s":"d","x":0.92,"y":10.8},{"s":"d","x":0.93,"y":9.9},{"s":"d","x":0.94,"y":10.6},{"s":"d","x":0.95,"y":11.1},{"s":"d","x":0.96,"y":10.2},{"s":"d","x":0.97,"y":10.7},{"s":"d","x":0.98,"y":9.8},{"s":"d","x":0.99,"y":10.4},{"s":"d","x":1.00,"y":11.0},{"s":"d","x":1.01,"y":10.1},{"s":"d","x":1.02,"y":10.5},{"s":"d","x":1.03,"y":9.6},{"s":"d","x":1.04,"y":10.2},{"s":"d","x":1.05,"y":9.9},{"s":"d","x":1.06,"y":10.6},{"s":"d","x":1.07,"y":9.5},{"s":"d","x":1.08,"y":10.1},{"s":"d","x":1.09,"y":9.7},{"s":"d","x":1.10,"y":10.4},{"s":"d","x":1.11,"y":9.3},{"s":"d","x":1.12,"y":9.9},{"s":"d","x":1.13,"y":10.3},{"s":"d","x":1.14,"y":9.4},{"s":"d","x":1.15,"y":9.8},{"s":"d","x":1.16,"y":10.5},{"s":"d","x":1.17,"y":9.2},{"s":"d","x":1.18,"y":9.7},{"s":"d","x":1.19,"y":10.0},{"s":"d","x":1.20,"y":9.1},{"s":"d","x":1.21,"y":9.6},{"s":"d","x":1.22,"y":10.2},{"s":"d","x":1.23,"y":9.3},{"s":"d","x":1.24,"y":9.8},{"s":"d","x":1.25,"y":9.0},{"s":"d","x":1.26,"y":9.5},{"s":"d","x":1.27,"y":8.7},{"s":"d","x":1.28,"y":9.2},{"s":"d","x":1.29,"y":9.6},{"s":"d","x":1.30,"y":8.6},{"s":"d","x":1.31,"y":9.1},{"s":"d","x":1.32,"y":8.3},{"s":"d","x":1.33,"y":8.9},{"s":"d","x":1.34,"y":9.3},{"s":"d","x":1.35,"y":8.5},{"s":"d","x":1.36,"y":8.8},{"s":"d","x":1.37,"y":8.1},{"s":"d","x":1.38,"y":8.7},{"s":"d","x":1.39,"y":9.0},{"s":"d","x":1.40,"y":8.3},{"s":"d","x":1.41,"y":8.6},{"s":"d","x":1.42,"y":8.0},{"s":"d","x":1.43,"y":8.9},{"s":"d","x":1.44,"y":8.4},{"s":"d","x":1.45,"y":7.9},{"s":"d","x":1.46,"y":8.7},{"s":"d","x":1.47,"y":8.2},{"s":"d","x":1.48,"y":8.5},{"s":"d","x":1.49,"y":7.8},{"s":"d","x":1.50,"y":8.3},{"s":"d","x":1.51,"y":8.7},{"s":"d","x":1.52,"y":7.6},{"s":"d","x":1.53,"y":8.1},{"s":"d","x":1.54,"y":8.4},{"s":"d","x":1.55,"y":7.7},{"s":"d","x":1.56,"y":8.2},{"s":"d","x":1.57,"y":7.5},{"s":"d","x":1.58,"y":8.0},{"s":"d","x":1.59,"y":8.5},{"s":"d","x":1.60,"y":7.6},{"s":"d","x":1.61,"y":7.9},{"s":"d","x":1.62,"y":7.4},{"s":"d","x":1.63,"y":8.2},{"s":"d","x":1.64,"y":8.9},{"s":"d","x":1.65,"y":7.5},{"s":"d","x":1.66,"y":7.8},{"s":"d","x":1.67,"y":7.1},{"s":"d","x":1.68,"y":7.6},{"s":"d","x":1.69,"y":7.9},{"s":"d","x":1.70,"y":7.2},{"s":"d","x":1.71,"y":7.5},{"s":"d","x":1.72,"y":6.9},{"s":"d","x":1.73,"y":7.4},{"s":"d","x":1.74,"y":7.8},{"s":"d","x":1.75,"y":7.0},{"s":"d","x":1.76,"y":7.3},{"s":"d","x":1.77,"y":6.8},{"s":"d","x":1.78,"y":7.6},{"s":"d","x":1.79,"y":7.1},{"s":"d","x":1.80,"y":6.7},{"s":"d","x":1.81,"y":8.6},{"s":"d","x":1.82,"y":7.2},{"s":"d","x":1.83,"y":6.9},{"s":"d","x":1.84,"y":7.4},{"s":"d","x":1.85,"y":6.5},{"s":"d","x":1.86,"y":7.0},{"s":"d","x":1.87,"y":7.3},{"s":"d","x":1.88,"y":6.6},{"s":"d","x":1.89,"y":7.1},{"s":"d","x":1.90,"y":6.8},{"s":"d","x":1.91,"y":7.5},{"s":"d","x":1.92,"y":6.4},{"s":"d","x":1.93,"y":6.9},{"s":"d","x":1.94,"y":7.2},{"s":"d","x":1.95,"y":6.6},{"s":"d","x":1.96,"y":7.0},{"s":"d","x":1.97,"y":6.3},{"s":"d","x":1.98,"y":6.8},{"s":"d","x":1.99,"y":7.3},{"s":"d","x":2.00,"y":6.5},{"s":"d","x":2.01,"y":6.9},{"s":"d","x":2.02,"y":6.2},{"s":"d","x":2.03,"y":6.7},{"s":"d","x":2.04,"y":7.2},{"s":"d","x":2.05,"y":6.4},{"s":"d","x":2.06,"y":6.8},{"s":"d","x":2.07,"y":6.0},{"s":"d","x":2.08,"y":6.6},{"s":"d","x":2.09,"y":7.0},{"s":"d","x":2.10,"y":6.3},{"s":"d","x":2.11,"y":6.7},{"s":"d","x":2.12,"y":5.9},{"s":"d","x":2.13,"y":6.5},{"s":"d","x":2.14,"y":6.9},{"s":"d","x":2.15,"y":6.2},{"s":"d","x":2.16,"y":6.6},{"s":"d","x":2.17,"y":6.0},{"s":"d","x":2.18,"y":6.4},{"s":"d","x":2.19,"y":7.0},{"s":"d","x":2.20,"y":6.1},{"s":"d","x":2.21,"y":6.5},{"s":"d","x":2.22,"y":5.8},{"s":"d","x":2.23,"y":6.3},{"s":"d","x":2.24,"y":6.7},{"s":"d","x":2.25,"y":5.9},{"s":"d","x":2.26,"y":6.4},{"s":"d","x":2.27,"y":6.1},{"s":"d","x":2.28,"y":6.8},{"s":"d","x":2.29,"y":5.7},{"s":"d","x":2.30,"y":6.2},{"s":"d","x":2.31,"y":6.6},{"s":"d","x":2.32,"y":5.6},{"s":"d","x":2.33,"y":6.1},{"s":"d","x":2.34,"y":6.5},{"s":"d","x":2.35,"y":5.8},{"s":"d","x":2.36,"y":6.3},{"s":"d","x":2.37,"y":5.5},{"s":"d","x":2.38,"y":6.0},{"s":"d","x":2.39,"y":6.6},{"s":"d","x":2.40,"y":5.9},{"s":"d","x":2.41,"y":6.2},{"s":"d","x":2.42,"y":5.7},{"s":"d","x":2.43,"y":6.4},{"s":"d","x":2.44,"y":5.9},{"s":"d","x":2.45,"y":6.1},{"s":"d","x":2.46,"y":6.6},{"s":"d","x":2.47,"y":5.6},{"s":"d","x":2.48,"y":6.0},{"s":"d","x":2.49,"y":6.3},{"s":"d","x":2.50,"y":5.7},{"s":"d","x":2.51,"y":6.1},{"s":"d","x":2.52,"y":5.5},{"s":"d","x":2.53,"y":5.9},{"s":"d","x":2.54,"y":6.3},{"s":"d","x":2.55,"y":5.4},{"s":"d","x":2.56,"y":5.8},{"s":"d","x":2.57,"y":6.2},{"s":"d","x":2.58,"y":5.5},{"s":"d","x":2.59,"y":5.9},{"s":"d","x":2.60,"y":5.2},{"s":"d","x":2.61,"y":5.7},{"s":"d","x":2.62,"y":6.1},{"s":"d","x":2.63,"y":5.4},{"s":"d","x":2.64,"y":5.8},{"s":"d","x":2.65,"y":5.1},{"s":"d","x":2.66,"y":5.6},{"s":"d","x":2.67,"y":6.0},{"s":"d","x":2.68,"y":5.3},{"s":"d","x":2.69,"y":5.7},{"s":"d","x":2.70,"y":5.0},{"s":"d","x":2.71,"y":5.5},{"s":"d","x":2.72,"y":5.9},{"s":"d","x":2.73,"y":5.2},{"s":"d","x":2.74,"y":5.6},{"s":"d","x":2.75,"y":4.9},{"s":"d","x":2.76,"y":5.4},{"s":"d","x":2.77,"y":5.8},{"s":"d","x":2.78,"y":5.1},{"s":"d","x":2.79,"y":5.5},{"s":"d","x":2.80,"y":4.8},{"s":"d","x":2.81,"y":5.3},{"s":"d","x":2.82,"y":5.7},{"s":"d","x":2.83,"y":5.0},{"s":"d","x":2.84,"y":5.4},{"s":"d","x":2.85,"y":4.7},{"s":"d","x":2.86,"y":5.2},{"s":"d","x":2.87,"y":5.6},{"s":"d","x":2.88,"y":4.6},{"s":"d","x":2.89,"y":5.1},{"s":"d","x":2.90,"y":5.5},{"s":"d","x":2.91,"y":4.8},{"s":"d","x":2.92,"y":5.3},{"s":"d","x":2.93,"y":5.0},{"s":"d","x":2.94,"y":5.6},{"s":"d","x":2.95,"y":4.7},{"s":"d","x":2.96,"y":5.2},{"s":"d","x":2.97,"y":4.9},{"s":"d","x":2.98,"y":5.4},{"s":"d","x":2.99,"y":4.6},{"s":"d","x":3.00,"y":5.1},{"s":"d","x":3.01,"y":5.5},{"s":"d","x":3.02,"y":4.7},{"s":"d","x":3.03,"y":5.0},{"s":"d","x":3.04,"y":4.5},{"s":"d","x":3.05,"y":5.3},{"s":"d","x":3.06,"y":4.8},{"s":"d","x":3.07,"y":5.1},{"s":"d","x":3.08,"y":4.4},{"s":"d","x":3.09,"y":5.0},{"s":"d","x":3.10,"y":5.4},{"s":"d","x":3.11,"y":4.6},{"s":"d","x":3.12,"y":4.9},{"s":"d","x":3.13,"y":5.2},{"s":"d","x":3.14,"y":4.4},{"s":"d","x":3.15,"y":4.8},{"s":"d","x":3.16,"y":5.3},{"s":"d","x":3.17,"y":4.5},{"s":"d","x":3.18,"y":4.9},{"s":"d","x":3.19,"y":5.1},{"s":"d","x":3.20,"y":4.3},{"s":"d","x":3.21,"y":4.8},{"s":"d","x":3.22,"y":5.2},{"s":"d","x":3.23,"y":4.5},{"s":"d","x":3.24,"y":4.9},{"s":"d","x":3.25,"y":4.2},{"s":"d","x":3.26,"y":4.7},{"s":"d","x":3.27,"y":5.1},{"s":"d","x":3.28,"y":4.4},{"s":"d","x":3.29,"y":4.8},{"s":"d","x":3.30,"y":5.3},{"s":"d","x":3.31,"y":4.5},{"s":"d","x":3.32,"y":4.9},{"s":"d","x":3.33,"y":4.1},{"s":"d","x":3.34,"y":4.6},{"s":"d","x":3.35,"y":5.0},{"s":"d","x":3.36,"y":4.3},{"s":"d","x":3.37,"y":4.8},{"s":"d","x":3.38,"y":5.2},{"s":"d","x":3.39,"y":4.4},{"s":"d","x":3.40,"y":4.7},{"s":"d","x":3.41,"y":4.1},{"s":"d","x":3.42,"y":4.9},{"s":"d","x":3.43,"y":5.2},{"s":"d","x":3.44,"y":4.4},{"s":"d","x":3.45,"y":4.7},{"s":"d","x":3.46,"y":4.2},{"s":"d","x":3.47,"y":5.0},{"s":"d","x":3.48,"y":4.5},{"s":"d","x":3.49,"y":4.8},{"s":"d","x":3.50,"y":5.3},{"s":"d","x":3.51,"y":4.3},{"s":"d","x":3.52,"y":4.7},{"s":"d","x":3.53,"y":5.1},{"s":"d","x":3.54,"y":4.4},{"s":"d","x":3.55,"y":4.8},{"s":"d","x":3.56,"y":4.1},{"s":"d","x":3.57,"y":4.6},{"s":"d","x":3.58,"y":5.0},{"s":"d","x":3.59,"y":4.3},{"s":"d","x":3.60,"y":4.7},{"s":"d","x":3.61,"y":5.2},{"s":"d","x":3.62,"y":4.4},{"s":"d","x":3.63,"y":4.8},{"s":"d","x":3.64,"y":4.2},{"s":"d","x":3.65,"y":4.6},{"s":"d","x":3.66,"y":5.0},{"s":"d","x":3.67,"y":4.3},{"s":"d","x":3.68,"y":4.7},{"s":"d","x":3.69,"y":4.1},{"s":"d","x":3.70,"y":4.5},{"s":"d","x":3.71,"y":4.9},{"s":"d","x":3.72,"y":4.2},{"s":"d","x":3.73,"y":4.6},{"s":"d","x":3.74,"y":4.0},{"s":"d","x":3.75,"y":4.4},{"s":"d","x":3.76,"y":4.8},{"s":"d","x":3.77,"y":4.1},{"s":"d","x":3.78,"y":4.5},{"s":"d","x":3.79,"y":4.9},{"s":"d","x":3.80,"y":4.2},{"s":"d","x":3.81,"y":4.6},{"s":"d","x":3.82,"y":4.0},{"s":"d","x":3.83,"y":4.4},{"s":"d","x":3.84,"y":4.8},{"s":"d","x":3.85,"y":4.1},{"s":"d","x":3.86,"y":4.5},{"s":"d","x":3.87,"y":4.9},{"s":"d","x":3.88,"y":4.2},{"s":"d","x":3.89,"y":4.6},{"s":"d","x":3.90,"y":4.0},{"s":"d","x":3.91,"y":4.4},{"s":"d","x":3.92,"y":4.8},{"s":"d","x":3.93,"y":4.1},{"s":"d","x":3.94,"y":4.5},{"s":"d","x":3.95,"y":3.9},{"s":"d","x":3.96,"y":4.3},{"s":"d","x":3.97,"y":4.7},{"s":"d","x":3.98,"y":4.0},{"s":"d","x":3.99,"y":4.4},{"s":"d","x":4.00,"y":4.8},{"s":"d","x":4.01,"y":4.1},{"s":"d","x":4.02,"y":4.5},{"s":"d","x":4.03,"y":3.9},{"s":"d","x":4.04,"y":4.3},{"s":"d","x":4.05,"y":4.7},{"s":"d","x":4.06,"y":4.0},{"s":"d","x":4.07,"y":4.4},{"s":"d","x":4.08,"y":4.8},{"s":"d","x":4.09,"y":4.1},{"s":"d","x":4.10,"y":4.5},{"s":"d","x":4.11,"y":3.9},{"s":"d","x":4.12,"y":4.3},{"s":"d","x":4.13,"y":4.7},{"s":"d","x":4.14,"y":4.0},{"s":"d","x":4.15,"y":4.4},{"s":"d","x":4.16,"y":4.8},{"s":"d","x":4.17,"y":4.1},{"s":"d","x":4.18,"y":4.5},{"s":"d","x":4.19,"y":3.9},{"s":"d","x":4.20,"y":4.3},{"s":"d","x":4.21,"y":4.7},{"s":"d","x":4.22,"y":4.0},{"s":"d","x":4.23,"y":4.4},{"s":"d","x":4.24,"y":4.6}
]
},
"layer":[
{
"data":{"name":"pts"},
"mark":{"type":"point","shape":"circle","strokeWidth":1.8,"opacity":1,"clip":true},
"encoding":{
"x":{"field":"x","type":"quantitative","scale":{"domain":[0.25,4.25],"nice":false,"zero":false},
"axis":{"orient":"bottom","values":[0.25,0.5,0.75,1,1.25,1.5,1.75,2,2.25,2.5,2.75,3,3.25,3.5,3.75,4,4.25],
"labelExpr":"abs(datum.value*2-round(datum.value*2))<0.01 && datum.value>0.3 && datum.value<4.2 ? format(datum.value,'.1f') : ''",
"tickSize":{"condition":{"test":"abs(datum.value*2-round(datum.value*2))<0.01","value":-11},"value":-6},
"labelPadding":14,"labelFlush":false,"labelOverlap":false,"title":"Time from Injection [hours]","titlePadding":0}},
"y":{"field":"y","type":"quantitative","scale":{"domain":[0,30],"nice":false,"zero":false},
"axis":{"orient":"left","values":[0,2.5,5,7.5,10,12.5,15,17.5,20,22.5,25,27.5,30],
"labelExpr":"datum.value % 5 === 0 ? format(datum.value,'d') : ''",
"tickSize":{"condition":{"test":"datum.value % 5 === 0","value":-11},"value":-6},
"labelPadding":14,"labelFlush":false,"labelOverlap":false,
"title":["Transverse Emittance","[π µm, 95% Normalized]"],"titleAngle":270,"titleX":-56,"titleY":208,"titleAlign":"center","titleBaseline":"middle","titleLineHeight":20}},
"fill":{"field":"s","type":"nominal","scale":{"domain":["a","b","c","d"],"range":["transparent","transparent","#000000","#ff0000"]},
"legend":{"orient":"none","legendX":28,"legendY":-40,"title":null,"strokeColor":"#000000","fillColor":"#ffffff","padding":7,"labelFont":"Liberation Serif, Times New Roman, DejaVu Serif, serif","labelFontSize":19,"labelColor":"#000000","symbolStrokeWidth":1.8,"rowPadding":6,"labelOffset":14,"symbolOffset":6,"symbolType":"circle",
"labelExpr":"{'a':'εₕ No Cooling','b':'εᵥ No Cooling','c':'εₕ With Cooling','d':'εᵥ With Cooling'}[datum.label]"}},
"stroke":{"field":"s","type":"nominal","scale":{"domain":["a","b","c","d"],"range":["#000000","#ff0000","#000000","#ff0000"]}},
"size":{"field":"s","type":"nominal","scale":{"domain":["a","b","c","d"],"range":[20,20,20,20]}}
}
},
{
"data":{"values":[{"x":1,"y":1}]},
"mark":{"type":"point","opacity":0},
"encoding":{
"x":{"field":"x","type":"quantitative","axis":{"orient":"top","values":[0.25,0.5,0.75,1,1.25,1.5,1.75,2,2.25,2.5,2.75,3,3.25,3.5,3.75,4,4.25],"labels":false,"title":null,
"tickSize":{"condition":{"test":"abs(datum.value*2-round(datum.value*2))<0.01","value":-11},"value":-6}}},
"y":{"field":"y","type":"quantitative","axis":{"orient":"right","values":[0,2.5,5,7.5,10,12.5,15,17.5,20,22.5,25,27.5,30],"labels":false,"title":null,
"tickSize":{"condition":{"test":"datum.value % 5 === 0","value":-11},"value":-6}}}
}
}
],
"resolve":{"axis":{"x":"independent","y":"independent"}}
}
